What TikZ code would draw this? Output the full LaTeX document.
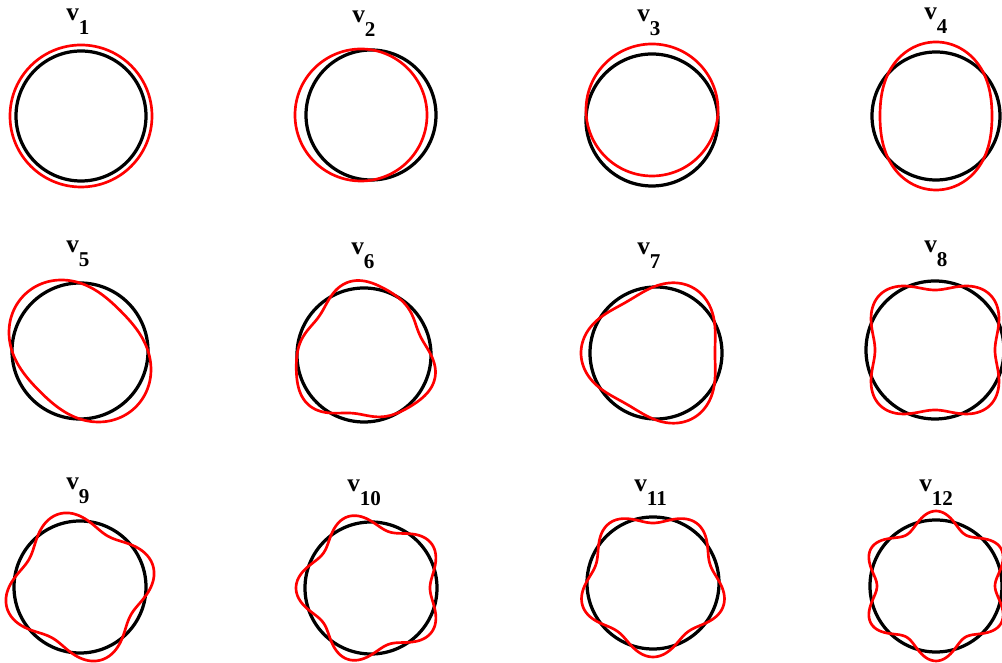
\documentclass[tikz,border=0pt]{standalone}
\usepackage{fontspec}
\setmainfont{Liberation Serif}
\usepackage{xcolor}
\usepackage{tikz}

\begin{document}
\begin{tikzpicture}[
  x=0.025cm, y=0.025cm,
  restring/.style={draw=black,line width=2.3pt},
  modeshape/.style={draw=red,line width=1.9pt,line join=round},
  modelabel/.style={anchor=base west,inner sep=0pt,font=\bfseries\fontsize{18}{20}\selectfont}
]
\useasboundingbox (0,0) rectangle (1002,663);

% centres of the rings
\coordinate (c1) at (81,547);
\coordinate (c2) at (371,548);
\coordinate (c3) at (652,543);
\coordinate (c4) at (936,547);
\coordinate (c5) at (80,312);
\coordinate (c6) at (364,308);
\coordinate (c7) at (656,310);
\coordinate (c8) at (935,313);
\coordinate (c9) at (80,76);
\coordinate (c10) at (371,75);
\coordinate (c11) at (653,80);
\coordinate (c12) at (936,77);

% row 1
\draw[restring] (c1) circle[radius=65];
\draw[modeshape] (c1) circle[radius=71];
\draw[restring] (c2) circle[radius=65];
\draw[modeshape,shift={(c2)}] (-10,0) circle[radius=66];
\draw[restring] (c3) circle[radius=66];
\draw[modeshape,shift={(c3)}] (0,10) circle[radius=66];
\draw[restring] (c4) circle[radius=64];
\draw[modeshape,shift={(c4)}] plot[domain=0:360,samples=181,variable=\t] (\t:{65-9*cos(2*\t)}) -- cycle;

% row 2
\draw[restring] (c5) circle[radius=68];
\draw[modeshape,shift={(c5)}] plot[domain=0:360,samples=181,variable=\t] (\t:{68-11*sin(2*\t)}) -- cycle;
\draw[restring] (c6) circle[radius=67];
\draw[modeshape,shift={(c6)}] plot[domain=0:360,samples=181,variable=\t] (\t:{67-7*sin(3*\t)+2*cos(6*\t+90)}) -- cycle;
\draw[restring] (c7) circle[radius=66];
\draw[modeshape,shift={(c7)}] plot[domain=0:360,samples=181,variable=\t] (\t:{67-8*cos(3*\t)}) -- cycle;
\draw[restring] (c8) circle[radius=69];
\draw[modeshape,shift={(c8)}] plot[domain=0:360,samples=181,variable=\t] (\t:{69-9*cos(4*\t)}) -- cycle;

% row 3
\draw[restring] (c9) circle[radius=66];
\draw[modeshape,shift={(c9)}] plot[domain=0:360,samples=181,variable=\t] (\t:{67+9*cos(4*(\t-16))}) -- cycle;
\draw[restring] (c10) circle[radius=66];
\draw[modeshape,shift={(c10)}] plot[domain=0:360,samples=181,variable=\t] (\t:{67-8*cos(5*\t)}) -- cycle;
\draw[restring] (c11) circle[radius=66];
\draw[modeshape,shift={(c11)}] plot[domain=0:360,samples=181,variable=\t] (\t:{67-7*sin(5*\t)}) -- cycle;
\draw[restring] (c12) circle[radius=66];
\draw[modeshape,shift={(c12)}] plot[domain=0:360,samples=181,variable=\t] (\t:{67-8*cos(6*\t)}) -- cycle;

% labels
\node[modelabel] (l1) at (66,642) {v\raisebox{-9.5pt}{\fontsize{15}{17}\selectfont 1}};
\node[modelabel] (l2) at (352,640) {v\raisebox{-9.5pt}{\fontsize{15}{17}\selectfont 2}};
\node[modelabel] (l3) at (637,641) {v\raisebox{-9.5pt}{\fontsize{15}{17}\selectfont 3}};
\node[modelabel] (l4) at (924,643) {v\raisebox{-9.5pt}{\fontsize{15}{17}\selectfont 4}};
\node[modelabel] (l5) at (66,410) {v\raisebox{-9.5pt}{\fontsize{15}{17}\selectfont 5}};
\node[modelabel] (l6) at (351,408) {v\raisebox{-9.5pt}{\fontsize{15}{17}\selectfont 6}};
\node[modelabel] (l7) at (637,408) {v\raisebox{-9.5pt}{\fontsize{15}{17}\selectfont 7}};
\node[modelabel] (l8) at (924,410) {v\raisebox{-9.5pt}{\fontsize{15}{17}\selectfont 8}};
\node[modelabel] (l9) at (66,173) {v\raisebox{-9.5pt}{\fontsize{15}{17}\selectfont 9}};
\node[modelabel] (l10) at (347,171) {v\raisebox{-9.5pt}{\fontsize{15}{17}\selectfont 10}};
\node[modelabel] (l11) at (634,171) {v\raisebox{-9.5pt}{\fontsize{15}{17}\selectfont 11}};
\node[modelabel] (l12) at (919,171) {v\raisebox{-9.5pt}{\fontsize{15}{17}\selectfont 12}};
\end{tikzpicture}
\end{document}
